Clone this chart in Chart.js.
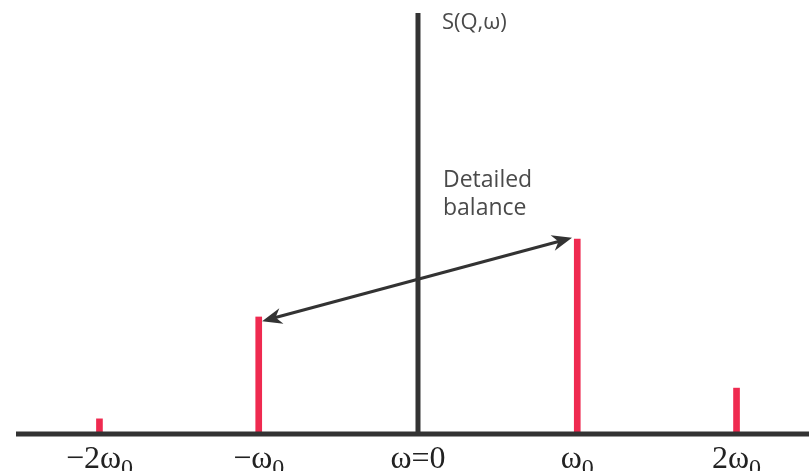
<!DOCTYPE html>
<html>
<head>
<meta charset="utf-8">
<script src="https://cdn.jsdelivr.net/npm/chart.js@4"></script>
<style>
  html, body { margin: 0; padding: 0; background: #fff; }
  #wrap { width: 809px; height: 471px; }
</style>
</head>
<body>
<div id="wrap"><canvas id="chart"></canvas></div>
<script>
// Peak positions (in units of omega_0) and heights of S(Q,w)
const peakPositions = [-2, -1, 1, 2];
const peakHeights = [0.036, 0.278, 0.463, 0.109];

// Tick labels under the axis: main text + subscript
const tickValues = [-2, -1, 0, 1, 2];
const tickMain = ['\u22122\u03C9', '\u2212\u03C9', '\u03C9=0', '\u03C9', '2\u03C9'];
const tickSub = ['0', '0', '', '0', '0'];

// Detailed balance arrow, from the +w0 peak to the -w0 peak (data units)
const arrowFrom = [0.967, 0.466];
const arrowTo = [-0.979, 0.268];

const axisColor = '#333333';
const peakColor = '#ef2a50';

// draws the axes, arrow and labels with the chart's own scales
const decorations = {
  id: 'decorations',
  afterDatasetsDraw(chart) {
    const ctx = chart.ctx;
    const x = chart.scales.x;
    const y = chart.scales.y;
    const area = chart.chartArea;
    ctx.save();

    // horizontal axis
    ctx.strokeStyle = axisColor;
    ctx.lineWidth = 5;
    ctx.beginPath();
    ctx.moveTo(area.left, y.getPixelForValue(0));
    ctx.lineTo(area.right, y.getPixelForValue(0));
    ctx.stroke();

    // vertical axis at w = 0
    ctx.beginPath();
    ctx.moveTo(x.getPixelForValue(0), y.getPixelForValue(1));
    ctx.lineTo(x.getPixelForValue(0), y.getPixelForValue(0));
    ctx.stroke();

    // double headed arrow
    const x1 = x.getPixelForValue(arrowFrom[0]), y1 = y.getPixelForValue(arrowFrom[1]);
    const x2 = x.getPixelForValue(arrowTo[0]), y2 = y.getPixelForValue(arrowTo[1]);
    const ang = Math.atan2(y2 - y1, x2 - x1);
    const headLen = 20, headW = 8;
    ctx.lineWidth = 3;
    ctx.beginPath();
    ctx.moveTo(x1 + Math.cos(ang) * 12, y1 + Math.sin(ang) * 12);
    ctx.lineTo(x2 - Math.cos(ang) * 12, y2 - Math.sin(ang) * 12);
    ctx.stroke();
    ctx.fillStyle = axisColor;
    [[x1, y1, ang + Math.PI], [x2, y2, ang]].forEach(([tx, ty, a]) => {
      const bx = tx - Math.cos(a) * headLen, by = ty - Math.sin(a) * headLen;
      const nx = -Math.sin(a) * headW, ny = Math.cos(a) * headW;
      const mx = tx - Math.cos(a) * headLen * 0.7, my = ty - Math.sin(a) * headLen * 0.7;
      ctx.beginPath();
      ctx.moveTo(tx, ty);
      ctx.lineTo(bx + nx, by + ny);
      ctx.lineTo(mx, my);
      ctx.lineTo(bx - nx, by - ny);
      ctx.closePath();
      ctx.fill();
    });

    // texts
    ctx.fillStyle = '#4a4a4a';
    ctx.textBaseline = 'middle';
    ctx.textAlign = 'left';
    ctx.font = '22px "Open Sans", sans-serif';
    ctx.fillText('S(Q,\u03C9)', x.getPixelForValue(0.15), y.getPixelForValue(0.976));
    ctx.font = '23px "Open Sans", sans-serif';
    ctx.textBaseline = 'alphabetic';
    ctx.fillText('Detailed', x.getPixelForValue(0.157), y.getPixelForValue(0.586));
    ctx.fillText('balance', x.getPixelForValue(0.157), y.getPixelForValue(0.52));

    // tick labels with subscripts
    ctx.fillStyle = '#222222';
    const mainFont = '32px "Liberation Serif", "Times New Roman", serif';
    const subFont = '24px "Liberation Serif", "Times New Roman", serif';
    const base = y.getPixelForValue(0) + 34;
    tickValues.forEach((v, i) => {
      ctx.font = mainFont;
      const w1 = ctx.measureText(tickMain[i]).width;
      ctx.font = subFont;
      const w2 = tickSub[i] ? ctx.measureText(tickSub[i]).width : 0;
      let left = x.getPixelForValue(v) - (w1 + w2) / 2;
      ctx.font = mainFont;
      ctx.fillText(tickMain[i], left, base);
      if (tickSub[i]) {
        ctx.font = subFont;
        ctx.fillText(tickSub[i], left + w1, base + 7);
      }
    });
    ctx.restore();
  }
};

new Chart(document.getElementById('chart'), {
  type: 'bar',
  data: {
    datasets: [{
      data: peakPositions.map((p, i) => ({ x: p, y: peakHeights[i] })),
      backgroundColor: peakColor,
      barThickness: 6,
      borderWidth: 0
    }]
  },
  options: {
    responsive: true,
    maintainAspectRatio: false,
    animation: false,
    layout: { padding: { left: 16, right: 0, top: 13, bottom: 37 } },
    plugins: { legend: { display: false }, tooltip: { enabled: false } },
    scales: {
      x: { type: 'linear', offset: false, min: -2.524, max: 2.455, display: false, grid: { display: false } },
      y: { min: 0, max: 1, display: false, grid: { display: false } }
    }
  },
  plugins: [decorations]
});
</script>
</body>
</html>
